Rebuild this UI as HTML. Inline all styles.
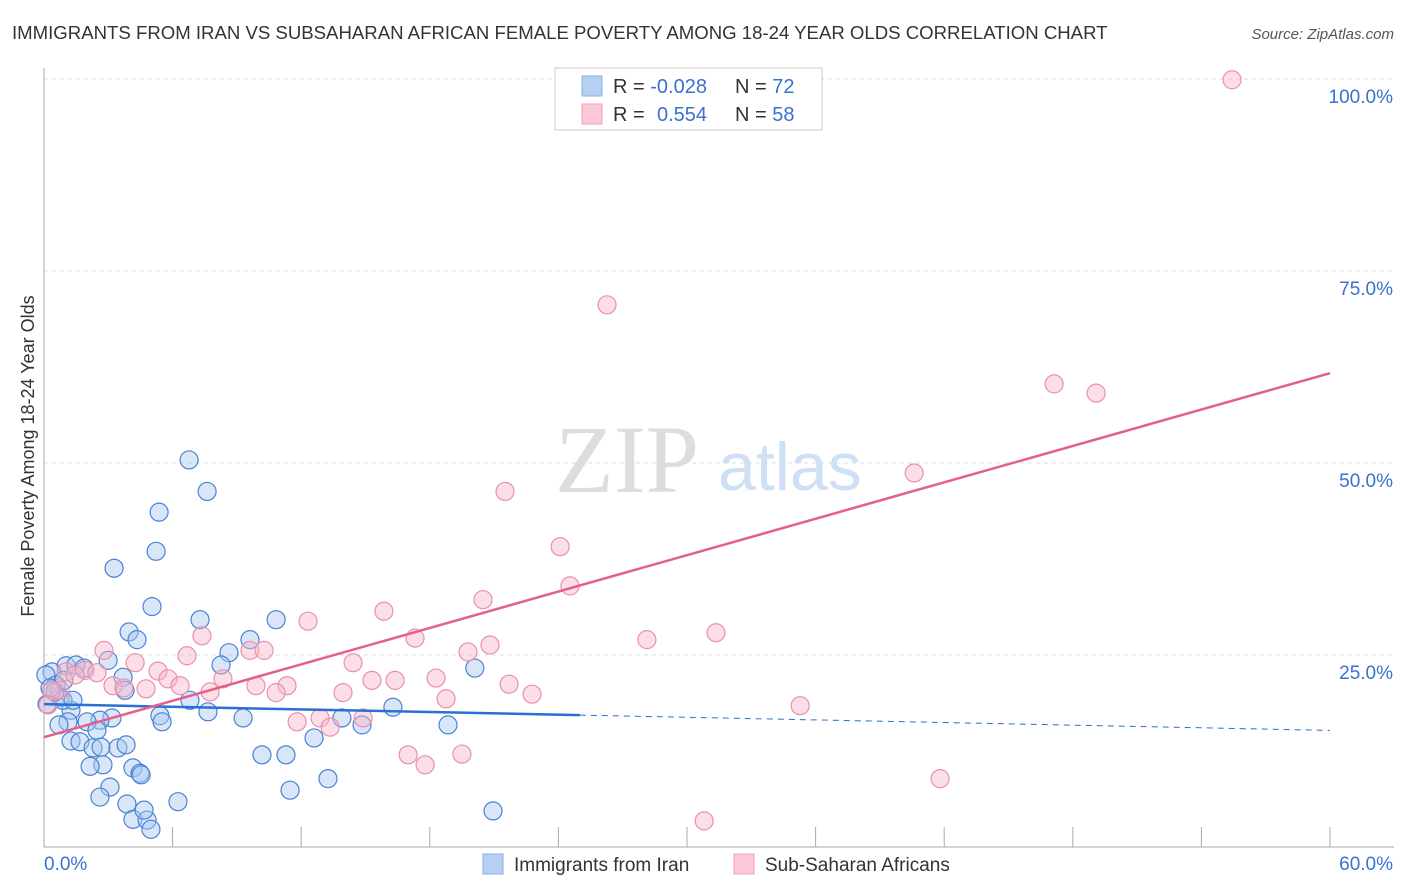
<!DOCTYPE html>
<html><head><meta charset="utf-8"><style>
body{margin:0;background:#fff;font-family:"Liberation Sans",sans-serif;}
#wrap{position:relative;width:1406px;height:892px;overflow:hidden;}
</style></head><body>
<div id="wrap">
<svg id="chart" width="1406" height="892" xmlns="http://www.w3.org/2000/svg">
<text x="12" y="39" font-size="18.6" fill="#333">IMMIGRANTS FROM IRAN VS SUBSAHARAN AFRICAN FEMALE POVERTY AMONG 18-24 YEAR OLDS CORRELATION CHART</text>
<text x="1394" y="39" font-size="15" fill="#555" font-style="italic" text-anchor="end">Source: ZipAtlas.com</text>
<text x="0" y="0" transform="translate(34,456) rotate(-90)" font-size="18" fill="#333" text-anchor="middle">Female Poverty Among 18-24 Year Olds</text>
<g id="grid"></g>
<text x="555" y="492" font-size="96" fill="#ddd" font-family="Liberation Serif,serif">ZIP</text>
<text x="718" y="490" font-size="68" fill="#cfe0f5">atlas</text>
<g id="pts"></g>
<g id="trend"></g>
<g>
<rect x="555" y="68" width="267" height="62" fill="#fff" stroke="#ccc"/>
<rect x="582" y="76" width="20" height="20" fill="#b6d0f4" stroke="#88aee6"/>
<rect x="582" y="104" width="20" height="20" fill="#fbc8d7" stroke="#f0a0ba"/>
<text x="613" y="93" font-size="20" fill="#333">R = <tspan fill="#3a70d0">-0.028</tspan></text>
<text x="735" y="93" font-size="20" fill="#333">N = <tspan fill="#3a70d0">72</tspan></text>
<text x="613" y="121" font-size="20" fill="#333">R = <tspan fill="#3a70d0" x="657">0.554</tspan></text>
<text x="735" y="121" font-size="20" fill="#333">N = <tspan fill="#3a70d0">58</tspan></text>
</g>
<g>
<rect x="483" y="854" width="20" height="20" fill="#b6d0f4" stroke="#88aee6"/>
<text x="514" y="871" font-size="19" fill="#333">Immigrants from Iran</text>
<rect x="734" y="854" width="20" height="20" fill="#fbc8d7" stroke="#f0a0ba"/>
<text x="765" y="871" font-size="19" fill="#333">Sub-Saharan Africans</text>
</g>
</svg>
</div>
<script>
const xTickLabels=["0.0%","60.0%"];
const yTicks=[25,50,75,100];
const yTickLabels=["25.0%","50.0%","75.0%","100.0%"];
const iranX=[6.77,7.61,5.37,5.23,3.27,5.04,7.28,10.83,3.97,4.34,9.61,8.63,2.99,8.26,20.1,1.03,1.49,1.87,0.37,0.09,0.56,0.37,3.69,3.78,0.75,0.14,6.81,16.28,7.65,9.29,13.9,14.84,5.41,5.51,1.26,3.17,2.61,1.12,2.01,0.7,18.85,2.47,1.26,1.68,2.29,2.66,3.45,3.83,2.75,2.15,12.6,10.17,11.29,4.15,4.48,4.53,13.25,3.08,2.61,3.87,6.25,11.48,4.15,4.81,4.99,4.67,20.95,0.89,0.51,0.28,0.93,1.35];
const iranY=[50.4,46.3,43.6,38.5,36.3,31.3,29.6,29.6,28.0,27.0,27.0,25.3,24.3,23.7,23.3,23.6,23.7,23.3,22.8,22.4,21.1,20.4,22.1,20.4,19.5,18.6,19.1,18.2,17.6,16.8,16.8,15.9,17.1,16.3,17.8,16.8,16.5,16.3,16.3,15.9,15.9,15.2,13.8,13.7,12.9,13.0,12.9,13.3,10.7,10.5,14.2,12.0,12.0,10.3,9.6,9.4,8.9,7.8,6.5,5.6,5.9,7.4,3.6,3.5,2.3,4.8,4.7,19.1,20.2,20.7,21.7,19.1];
const ssaX=[55.43,30.24,26.27,47.13,49.09,40.6,21.51,24.08,24.54,20.48,15.86,12.32,31.35,28.13,17.31,20.81,7.37,2.8,19.78,6.67,4.25,14.42,5.32,1.91,2.47,5.79,8.35,9.61,10.27,6.35,9.89,11.34,16.38,15.3,18.29,21.7,7.75,10.83,13.95,22.77,18.76,3.22,4.76,0.75,0.37,0.19,35.28,11.81,12.88,13.35,14.89,16.99,17.78,19.5,41.81,30.8,3.73,1.03,1.45];
const ssaY=[99.9,99.9,70.6,60.3,59.1,48.7,46.3,39.1,34.0,32.2,30.7,29.4,27.9,27.0,27.2,26.3,27.5,25.6,25.4,24.9,24.0,24.0,22.9,23.0,22.7,21.9,21.9,25.6,25.6,21.0,21.0,21.0,21.7,21.7,22.0,21.2,20.2,20.1,20.1,19.9,19.3,21.0,20.6,20.4,20.4,18.5,18.4,16.3,16.8,15.6,16.8,12.0,10.7,12.1,8.9,3.4,20.7,22.8,22.4];
const iranTrend=[18.6,-0.057];
const ssaTrend=[14.3,0.79];
const NS="http://www.w3.org/2000/svg";
const X0=44,X1=1330,Y0=847,YTOP=79;
const sx=v=>X0+v/60*(X1-X0);
const sy=v=>Y0-v/100*(Y0-YTOP);
function mk(t,a,p){const e=document.createElementNS(NS,t);for(const k in a)e.setAttribute(k,a[k]);p.appendChild(e);return e;}
const grid=document.getElementById('grid');
yTicks.forEach((v,i)=>{
 const l=mk('line',{x1:X0,x2:1394,y1:sy(v),y2:sy(v),stroke:'#ddd','stroke-dasharray':'4,4'},grid);
 
 
 const t=mk('text',{x:1393,y:sy(v)+24,'font-size':19,fill:'#3a70d0','text-anchor':'end'},grid);
 t.textContent=yTickLabels[i];
 
 
});
const ax=mk('line',{x1:X0,x2:X0,y1:68,y2:Y0,stroke:'#aaa'},grid);


const bx=mk('line',{x1:X0,x2:1394,y1:Y0,y2:Y0,stroke:'#aaa'},grid);


for(let i=1;i<=10;i++){const xx=X0+i*(X1-X0)/10;const tk=mk('line',{x1:xx,x2:xx,y1:Y0-20,y2:Y0,stroke:'#aaa'},grid);
 
 }
[[0,'start',44],[60,'end',1393]].forEach((d,i)=>{const t=mk('text',{x:d[2],y:870,'font-size':19,fill:'#3a70d0','text-anchor':d[1]},grid);t.textContent=xTickLabels[i];
 
 });
const pts=document.getElementById('pts');
function dots(xs,ys,fill,stroke,name){xs.forEach((x,i)=>{const c=mk('circle',{cx:sx(x),cy:sy(ys[i]),r:9,fill:fill,'fill-opacity':0.45,stroke:stroke,'stroke-width':1.2},pts);
 
 });}
dots(iranX,iranY,'#a9c8f0','#4a82d6','point-iran');
dots(ssaX,ssaY,'#f8b6ca','#e890ad','point-ssa');
const tr=document.getElementById('trend');
const f=(c,x)=>c[0]+c[1]*x;
const b1=mk('line',{x1:sx(0),y1:sy(f(iranTrend,0)),x2:sx(25),y2:sy(f(iranTrend,25)),stroke:'#2a6fd6','stroke-width':2.5},tr);


const b2=mk('line',{x1:sx(25),y1:sy(f(iranTrend,25)),x2:sx(60),y2:sy(f(iranTrend,60)),stroke:'#2a6fd6','stroke-width':1,'stroke-dasharray':'6,5'},tr);


const p1=mk('line',{x1:sx(0),y1:sy(f(ssaTrend,0)),x2:sx(60),y2:sy(f(ssaTrend,60)),stroke:'#e55f8c','stroke-width':2.5},tr);


</script>
</body></html>
